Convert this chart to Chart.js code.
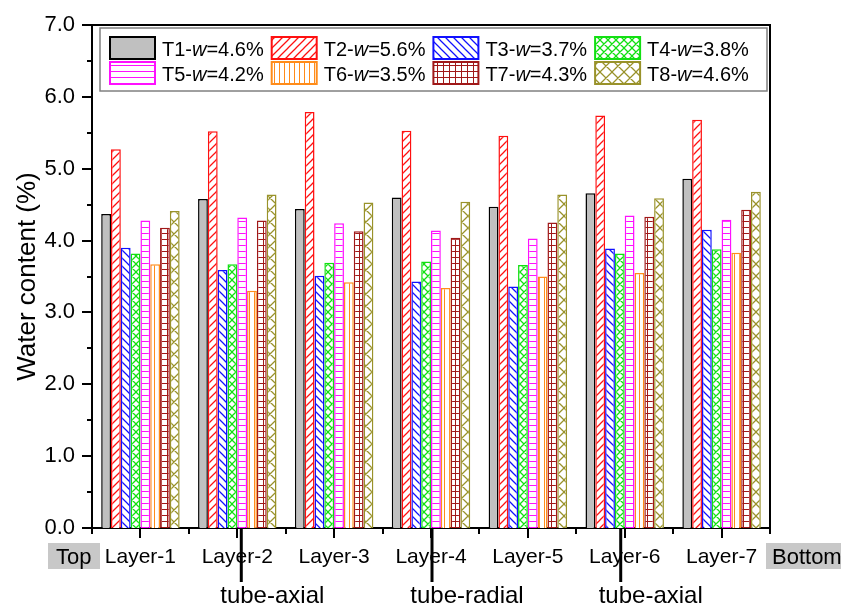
<!DOCTYPE html>
<html>
<head>
<meta charset="utf-8">
<script src="https://cdn.jsdelivr.net/npm/chart.js@4/dist/chart.umd.min.js"></script>
<style>
html,body{margin:0;padding:0;background:#fff;}
canvas{display:block;}
</style>
</head>
<body>
<canvas id="c" width="841" height="606"></canvas>
<script>
// ---- data ----
const categories = ['Layer-1','Layer-2','Layer-3','Layer-4','Layer-5','Layer-6','Layer-7'];
const seriesLabels = ['T1-w=4.6%','T2-w=5.6%','T3-w=3.7%','T4-w=3.8%','T5-w=4.2%','T6-w=3.5%','T7-w=4.3%','T8-w=4.6%'];
const T1 = [4.37, 4.58, 4.44, 4.60, 4.47, 4.66, 4.86];
const T2 = [5.27, 5.52, 5.79, 5.53, 5.46, 5.74, 5.68];
const T3 = [3.90, 3.59, 3.51, 3.43, 3.36, 3.89, 4.15];
const T4 = [3.82, 3.67, 3.69, 3.71, 3.66, 3.82, 3.88];
const T5 = [4.28, 4.32, 4.24, 4.14, 4.03, 4.35, 4.29];
const T6 = [3.67, 3.30, 3.42, 3.34, 3.50, 3.55, 3.83];
const T7 = [4.18, 4.28, 4.13, 4.04, 4.25, 4.33, 4.43];
const T8 = [4.41, 4.64, 4.53, 4.54, 4.64, 4.59, 4.68];
const yTicks = [0,1,2,3,4,5,6,7];
const sideLabels = ['Top','Bottom'];
const tubeLabels = ['tube-axial','tube-radial','tube-axial'];
const tubeLayers = [1,3,5];

// ---- styles ----
const colors = ['#000000','#ff1010','#1010ff','#12e012','#ff10ff','#ff8c1a','#a01818','#99922a'];
const patternTypes = ['solid','diagR','diagL','cross','horiz','vert','grid','crossBig'];

function makePattern(type, color){
  if(type==='solid') return '#c0c0c0';
  const sizes = {diagR:8, diagL:8, cross:8, horiz:6, vert:5, grid:6, crossBig:12};
  const s = sizes[type];
  const c = document.createElement('canvas');
  c.width = s; c.height = s;
  const g = c.getContext('2d');
  g.fillStyle = '#fff'; g.fillRect(0,0,s,s);
  g.strokeStyle = color; g.lineWidth = (type==='horiz'||type==='vert'||type==='grid') ? 1 : 1.25;
  g.beginPath();
  const dR = ()=>{ g.moveTo(-2,s+2); g.lineTo(s+2,-2); g.moveTo(-2,2); g.lineTo(2,-2); g.moveTo(s-2,s+2); g.lineTo(s+2,s-2); };
  const dL = ()=>{ g.moveTo(-2,-2); g.lineTo(s+2,s+2); g.moveTo(s-2,-2); g.lineTo(s+2,2); g.moveTo(-2,s-2); g.lineTo(2,s+2); };
  if(type==='diagR') dR();
  if(type==='diagL') dL();
  if(type==='cross' || type==='crossBig'){ dR(); dL(); }
  if(type==='horiz' || type==='grid'){ g.moveTo(0,s-0.5); g.lineTo(s,s-0.5); }
  if(type==='vert' || type==='grid'){ g.moveTo(s-0.5,0); g.lineTo(s-0.5,s); }
  g.stroke();
  return g.createPattern(c,'repeat');
}
const fills = patternTypes.map((t,i)=>makePattern(t, colors[i]));
const seriesData = [T1,T2,T3,T4,T5,T6,T7,T8];

const FONT = '"Liberation Sans", Arial, sans-serif';
Chart.defaults.font.family = FONT;
Chart.defaults.color = '#000';

const decor = {
  id:'decor',
  afterDraw(chart){
    const g = chart.ctx;
    const ca = chart.chartArea;
    const xs = chart.scales.x, ys = chart.scales.y;
    g.save();
    // frame top/right
    g.strokeStyle = '#000'; g.lineWidth = 2;
    g.beginPath();
    g.moveTo(ca.left, ca.top); g.lineTo(ca.right, ca.top); g.lineTo(ca.right, ca.bottom);
    g.stroke();
    // y ticks
    g.beginPath();
    yTicks.forEach(v=>{
      const y = Math.round(ys.getPixelForValue(v));
      g.moveTo(ca.left-10, y); g.lineTo(ca.left, y);
      if(v<7){ const ym = Math.round(ys.getPixelForValue(v+0.5)); g.moveTo(ca.left-5, ym); g.lineTo(ca.left, ym); }
    });
    g.stroke();
    // x ticks
    g.beginPath();
    categories.forEach((c,i)=>{
      const x = Math.round(xs.getPixelForValue(i));
      g.moveTo(x, ca.bottom); g.lineTo(x, ca.bottom+10);
      const xb = Math.round(xs.getPixelForValue(i-0.5));
      g.moveTo(xb, ca.bottom); g.lineTo(xb, ca.bottom+6);
    });
    const xe = Math.round(xs.getPixelForValue(categories.length-0.5));
    g.moveTo(xe, ca.bottom); g.lineTo(xe, ca.bottom+6);
    g.stroke();
    // Top / Bottom boxes
    g.fillStyle = '#c8c8c8';
    g.fillRect(48, 543, ca.left - 48 + 8, 26);
    g.fillRect(ca.right - 4, 543, 841 - ca.right + 4, 26);
    g.fillStyle = '#000';
    g.font = '22px ' + FONT;
    g.textBaseline = 'alphabetic';
    g.textAlign = 'left';
    g.fillText(sideLabels[0], 56, 564);
    g.fillText(sideLabels[1], ca.right + 2, 564);
    // tube lines and labels
    const offs = [4, 1, -4];
    const toffs = [31, 35, 30];
    g.lineWidth = 3;
    g.font = '24px ' + FONT;
    tubeLayers.forEach((li,k)=>{
      const x = xs.getPixelForValue(li) + offs[k];
      g.beginPath(); g.moveTo(x, ca.bottom+1); g.lineTo(x, ca.bottom+54); g.stroke();
      g.textAlign = 'center';
      g.fillText(tubeLabels[k], x + toffs[k], 603);
    });
    // legend
    const lx = 100, ly = ca.top + 3, lw = ca.right - 3 - lx, lh = 63;
    g.fillStyle = '#fff';
    g.fillRect(lx, ly, lw, lh);
    g.strokeStyle = '#808080'; g.lineWidth = 1.5;
    g.strokeRect(lx, ly, lw, lh);
    chart.data.datasets.forEach((ds,i)=>{
      const col = i % 4, row = Math.floor(i/4);
      const sx = 110 + col*161.7, sy = ly + (row===0 ? 9 : 34), sw = 45, sh = 22;
      g.fillStyle = ds.backgroundColor;
      g.fillRect(sx, sy, sw, sh);
      g.strokeStyle = ds.borderColor; g.lineWidth = 2;
      g.strokeRect(sx, sy, sw, sh);
      const lbl = ds.label;
      const idx = lbl.indexOf('w');
      const a = lbl.slice(0, idx), b = 'w', c = lbl.slice(idx+1);
      let tx = sx + sw + 7;
      const ty = sy + sh/2 + 7.5;
      g.fillStyle = '#000'; g.textAlign = 'left'; g.textBaseline = 'alphabetic';
      g.font = '20px ' + FONT; g.fillText(a, tx, ty); tx += g.measureText(a).width;
      g.font = 'italic 20px ' + FONT; g.fillText(b, tx, ty); tx += g.measureText(b).width;
      g.font = '20px ' + FONT; g.fillText(c, tx, ty);
    });
    g.restore();
  }
};

new Chart(document.getElementById('c'), {
  type:'bar',
  data:{
    labels: categories,
    datasets: seriesData.map((d,i)=>({
      label: seriesLabels[i],
      data: d,
      backgroundColor: fills[i],
      borderColor: colors[i],
      borderWidth: 1.5,
      barPercentage: 1.0,
      categoryPercentage: 0.81
    }))
  },
  options:{
    responsive:false,
    animation:false,
    devicePixelRatio:1,
    layout:{padding:{top:25, right:71, left:0, bottom:0}},
    plugins:{legend:{display:false}, tooltip:{enabled:false}},
    scales:{
      x:{
        offset:true,
        grid:{display:false, drawTicks:false},
        border:{display:true, color:'#000', width:2},
        ticks:{font:{size:21}, color:'#000', padding:17, maxRotation:0},
        afterFit(s){ s.height = 78; s.paddingLeft = 0; s.paddingRight = 0; }
      },
      y:{
        min:0, max:7,
        grid:{display:false, drawTicks:false},
        border:{display:true, color:'#000', width:2},
        ticks:{stepSize:1, font:{size:22}, color:'#000', padding:17, callback:v=>Number(v).toFixed(1)},
        title:{display:true, text:'Water content (%)', font:{size:26}, color:'#000', padding:{top:12, bottom:0}},
        afterFit(s){ s.width = 92; s.paddingTop = 0; s.paddingBottom = 0; }
      }
    }
  },
  plugins:[decor]
});
</script>
</body>
</html>
